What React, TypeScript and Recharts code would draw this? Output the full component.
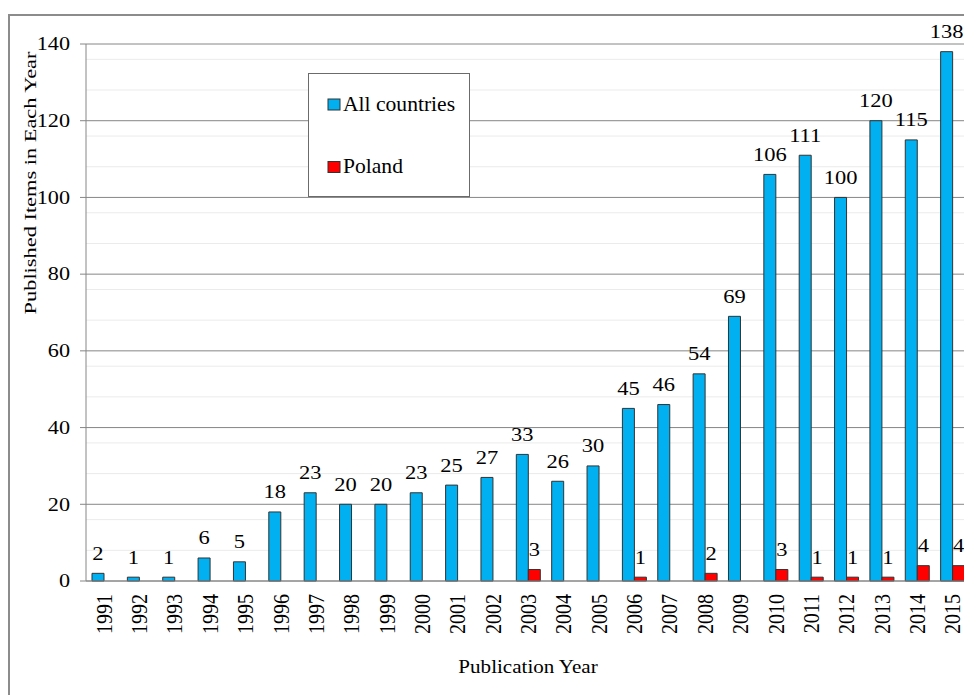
import React from 'react';
import { BarChart, Bar, XAxis, YAxis, CartesianGrid, Legend, LabelList } from 'recharts';

const years = [
  '1991', '1992', '1993', '1994', '1995', '1996', '1997', '1998', '1999', '2000',
  '2001', '2002', '2003', '2004', '2005', '2006', '2007', '2008', '2009', '2010',
  '2011', '2012', '2013', '2014', '2015',
];
const allCountries = [2, 1, 1, 6, 5, 18, 23, 20, 20, 23, 25, 27, 33, 26, 30, 45, 46, 54, 69, 106, 111, 100, 120, 115, 138];
const poland = [0, 0, 0, 0, 0, 0, 0, 0, 0, 0, 0, 0, 3, 0, 0, 1, 0, 2, 0, 3, 1, 1, 1, 4, 4];

const yTicks = [0, 20, 40, 60, 80, 100, 120, 140];
// light minor lines every 4 units
const minorTicks = [
  4, 8, 12, 16, 24, 28, 32, 36, 44, 48, 52, 56, 64, 68, 72, 76, 84, 88, 92, 96,
  104, 108, 112, 116, 124, 128, 132, 136,
];

const BLUE = '#00b0f0';
const RED = '#ff0000';
const FONT = '"Liberation Serif", "Times New Roman", serif';

const rows = years.map((year, i) => ({ year, all: allCountries[i], poland: poland[i] }));

const YTick = (props: any) => {
  const { x, y, payload } = props;
  return (
    <text transform={`translate(${x},${y}) scale(1.2,1)`} textAnchor="end" dy="0.34em"
      fontFamily={FONT} fontSize={18.5} fill="#000">
      {payload.value}
    </text>
  );
};

const XTick = (props: any) => {
  const { x, y, payload } = props;
  return (
    <text transform={`translate(${x},${y}) scale(1.15,1) rotate(-90)`} textAnchor="end" dy="0.35em"
      fontFamily={FONT} fontSize={20} fill="#000">
      {payload.value}
    </text>
  );
};

const ValueLabel = (props: any) => {
  const { x, y, width, value } = props;
  if (!value) return null;
  return (
    <text transform={`translate(${x + width / 2},${y - 13.5}) scale(1.25,1)`} textAnchor="middle"
      fontFamily={FONT} fontSize={18} fill="#000">
      {value}
    </text>
  );
};

const XTitle = (props: any) => {
  const vb = props.viewBox || { x: 78, y: 573, width: 884 };
  return (
    <text transform={`translate(${vb.x + vb.width / 2},${vb.y + 92.3}) scale(1.11,1)`} textAnchor="middle"
      fontFamily={FONT} fontSize={19} fill="#000">
      Publication Year
    </text>
  );
};

const YTitle = (props: any) => {
  const vb = props.viewBox || { x: 0, y: 36 };
  return (
    <text transform={`translate(${vb.x + 27.5},${vb.y + 139}) rotate(-90) scale(1.28,1)`} textAnchor="middle"
      fontFamily={FONT} fontSize={17.5} fill="#000">
      Published Items in Each Year
    </text>
  );
};

const LegendBox = () => (
  <div style={{ width: 162, height: 124, boxSizing: 'border-box', border: '1.5px solid #6b6b6b', background: '#fff' }}>
    <svg width={159} height={121} style={{ display: 'block' }}>
      <rect x={19} y={25} width={12} height={11} fill={BLUE} stroke="#333" strokeWidth={1} />
      <text transform="translate(34,36.5) scale(1.08,1)" fontFamily={FONT} fontSize={20} fill="#000">
        All countries
      </text>
      <rect x={19} y={87.5} width={12} height={11} fill={RED} stroke="#333" strokeWidth={1} />
      <text transform="translate(34,98.5) scale(1.08,1)" fontFamily={FONT} fontSize={20} fill="#000">
        Poland
      </text>
    </svg>
  </div>
);

export default function App() {
  return (
    <div style={{ position: 'relative', width: 964, height: 687 }}>
      <div style={{
        position: 'absolute', left: 0, top: 6, width: 964, height: 681,
        borderTop: '2px solid #8c8c8c', borderLeft: '2px solid #8c8c8c', boxSizing: 'border-box',
      }} />
      <div style={{ position: 'absolute', left: 0, top: 0 }}>
        <BarChart width={964} height={680} data={rows} barGap={0}
          margin={{ top: 36, right: 2, left: 0, bottom: 0 }}>
          <CartesianGrid vertical={false} horizontalValues={minorTicks} stroke="#ebebeb" />
          <CartesianGrid vertical={false} stroke="#868686" />
          <XAxis dataKey="year" interval={0} height={107} tickLine={false} tickSize={0} tickMargin={13}
            axisLine={{ stroke: '#868686' }} tick={<XTick />} label={<XTitle />} />
          <YAxis domain={[0, 140]} ticks={yTicks} width={78} tickSize={6} tickMargin={10}
            axisLine={{ stroke: '#868686' }} tickLine={{ stroke: '#868686' }} tick={<YTick />}
            label={<YTitle />} />
          <Legend layout="vertical" align="center" verticalAlign="middle" content={<LegendBox />}
            wrapperStyle={{ left: 300, top: 65, width: 162, height: 124 }} />
          <Bar dataKey="all" name="All countries" fill={BLUE} stroke="#333" strokeWidth={1} barSize={12}
            isAnimationActive={false}>
            <LabelList dataKey="all" content={<ValueLabel />} />
          </Bar>
          <Bar dataKey="poland" name="Poland" fill={RED} stroke="#333" strokeWidth={1} barSize={12}
            isAnimationActive={false}>
            <LabelList dataKey="poland" content={<ValueLabel />} />
          </Bar>
        </BarChart>
      </div>
    </div>
  );
}
